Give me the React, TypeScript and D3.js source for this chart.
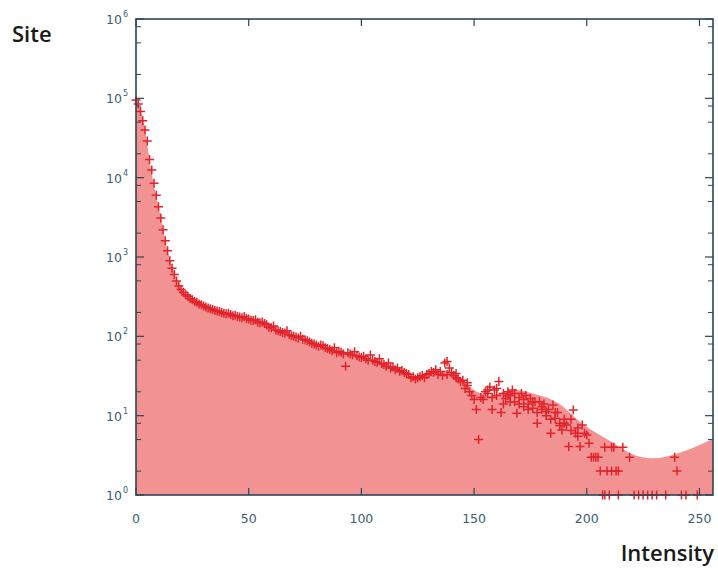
import React from "react";
import * as d3 from "d3";

// Smooth fitted curve (intensity, site count) – filled area
const curveIntensity = [0, 2, 4, 6, 8, 11, 13.5, 16.5, 19.5, 23, 27, 36, 46, 56, 65, 77, 95, 110, 124, 130, 137, 143, 150, 157, 163, 168, 176, 187, 198, 212, 221, 230, 238, 247, 256];
const curveCount = [100000, 70800, 39800, 16600, 7940, 3160, 1380, 692, 427, 331, 275, 214, 178, 155, 110, 78, 59, 44, 31, 32, 37, 31, 21, 18, 20, 21, 19, 14.5, 7.9, 4.5, 3.2, 2.9, 3.2, 3.9, 5.1];

// Measured counts for intensities 0..134 (one per intensity)
const bandCounts = [
  95000, 85000, 68000, 52000, 40000, 29000, 17000, 12500, 8500, 6000,
  4300, 3100, 2200, 1600, 1200, 900, 720, 600, 500, 430,
  390, 360, 335, 320, 300, 290, 275, 268, 255, 250,
  242, 235, 228, 222, 218, 212, 208, 205, 200, 196,
  192, 195, 188, 182, 185, 178, 175, 172, 178, 168,
  165, 160, 158, 162, 150, 148, 152, 145, 140, 130,
  128, 135, 120, 118, 115, 112, 110, 118, 105, 102,
  100, 98, 95, 100, 92, 90, 88, 85, 82, 80,
  78, 75, 78, 76, 72, 70, 68, 66, 72, 62,
  65, 63, 60, 42, 62, 60, 58, 64, 57, 55,
  54, 56, 52, 50, 58, 50, 48, 47, 52, 45,
  44, 42, 46, 40, 41, 38, 40, 36, 37, 35,
  34, 33, 30, 31, 29, 30, 31, 32, 30, 33,
  34, 36, 35, 38, 33
];

// Scattered measurements for intensities above 134
const scatterIntensity = [135, 136, 137, 138, 139, 140, 141, 142, 143, 144, 145, 146, 147, 148, 149, 150, 151, 152, 153, 154, 155, 156, 157, 158, 159, 160, 161, 162, 163, 164, 165, 166, 167, 168, 169, 170, 171, 172, 173, 174, 175, 176, 177, 178, 179, 180, 181, 182, 183, 184, 185, 186, 187, 188, 189, 190, 191, 192, 193, 194, 195, 196, 197, 198, 199, 200, 202, 203, 204, 206, 208, 212, 211, 213, 214, 216, 219, 239, 240,
  138, 142, 147, 156, 158, 160, 163, 165, 166, 168, 170, 172, 174, 176, 178, 180, 182, 184, 186, 188, 190, 193, 196, 201, 205, 209, 211,
  207, 208, 210, 214, 221, 223, 225, 227, 229, 231, 235, 242, 244, 249];
const scatterCount = [36, 32, 46, 48, 40, 35, 32, 30, 29, 27, 28, 22, 24, 20, 18, 16, 12, 5, 17, 16, 20, 19, 23, 12, 21, 18, 27, 11, 19, 16.5, 20, 18, 21, 15, 10.7, 17, 19, 13, 18, 14, 16.5, 12.4, 15, 8, 15, 13, 14, 11.2, 12, 6, 13.6, 9.3, 11, 8, 6.6, 9, 7.6, 4.1, 9, 11.8, 6, 7, 4.1, 7.6, 6, 5.7, 3, 3, 3, 2, 4, 4, 2, 2, 2, 4, 3, 3, 2,
  33, 34, 26, 21, 17, 22, 14, 18, 15, 19, 14, 16, 12, 15, 11, 12, 10, 9, 11, 7.5, 8, 6.5, 5.5, 4.5, 3, 2, 4,
  1, 1, 1, 1, 1, 1, 1, 1, 1, 1, 1, 1, 1, 1];

const xTicks = [0, 50, 100, 150, 200, 250];
const yExponents = [0, 1, 2, 3, 4, 5, 6];
const minorMultipliers = [2, 5, 8];

export default function App() {
  const left = 136, right = 713, top = 19, bottom = 495;
  const x = d3.scaleLinear().domain([0, 256]).range([left, right]);
  const y = d3.scaleLog().domain([1, 1e6]).range([bottom, top]);

  const curvePts = curveIntensity.map((v, i) => [v, curveCount[i]] as [number, number]);
  const area = d3.area<[number, number]>()
    .x(d => x(d[0]))
    .y0(y(1))
    .y1(d => y(d[1]))
    .curve(d3.curveMonotoneX)(curvePts) as string;

  const points: [number, number][] = [
    ...bandCounts.map((c, i) => [i, c] as [number, number]),
    ...scatterIntensity.map((v, i) => [v, scatterCount[i]] as [number, number]),
  ];

  const axisColor = "#2c4753";
  const labelColor = "#3b5d70";
  const markerColor = "#e2232a";
  const arm = 4.5;

  const minorTicks: number[] = [];
  for (let e = 0; e < 6; e++) minorMultipliers.forEach(m => minorTicks.push(m * Math.pow(10, e)));

  return (
    <svg width={718} height={570} style={{ position: "absolute", left: 0, top: 0, background: "#fff" }}
      fontFamily="DejaVu Sans, sans-serif">
      <defs>
        <clipPath id="plot"><rect x={left} y={top} width={right - left} height={bottom - top} /></clipPath>
      </defs>
      <path d={area} fill="#f29293" clipPath="url(#plot)" />
      <g stroke={markerColor} strokeWidth={1.5}>
        {points.map((p, i) => {
          const cx = x(p[0]), cy = y(p[1]);
          return (
            <path key={i} d={`M${cx - arm},${cy}H${cx + arm}M${cx},${cy - arm}V${cy + arm}`} />
          );
        })}
      </g>
      {/* frame */}
      <rect x={left} y={top} width={right - left} height={bottom - top} fill="none" stroke={axisColor} strokeWidth={1.6} />
      {/* x ticks */}
      {xTicks.map(t => (
        <g key={"xt" + t} stroke={axisColor} strokeWidth={1.2}>
          <line x1={x(t)} x2={x(t)} y1={bottom} y2={bottom - 7} />
          <line x1={x(t)} x2={x(t)} y1={top} y2={top + 7} />
        </g>
      ))}
      {xTicks.map(t => (
        <text key={"xl" + t} x={x(t)} y={523} fontSize={12.5} fill={labelColor} textAnchor="middle">{t}</text>
      ))}
      {/* y ticks */}
      {yExponents.map(e => (
        <g key={"yt" + e} stroke={axisColor} strokeWidth={1.2}>
          <line x1={left} x2={left + 8} y1={y(Math.pow(10, e))} y2={y(Math.pow(10, e))} />
          <line x1={right} x2={right - 8} y1={y(Math.pow(10, e))} y2={y(Math.pow(10, e))} />
        </g>
      ))}
      {minorTicks.map((v, i) => (
        <g key={"ym" + i} stroke={axisColor} strokeWidth={1}>
          <line x1={left} x2={left + 5} y1={y(v)} y2={y(v)} />
          <line x1={right} x2={right - 5} y1={y(v)} y2={y(v)} />
        </g>
      ))}
      {yExponents.map(e => (
        <text key={"yl" + e} x={122} y={y(Math.pow(10, e)) + 5} fontSize={12.5} fill={labelColor} textAnchor="end">
          10
        </text>
      ))}
      {yExponents.map(e => (
        <text key={"ye" + e} x={123} y={y(Math.pow(10, e)) - 2} fontSize={8} fill={labelColor}>
          {e}
        </text>
      ))}
      <text x={12} y={42} fontSize={22} fill="#1a1a1a" fontWeight={600} fontFamily="Open Sans, sans-serif">Site</text>
      <text x={714} y={561} fontSize={22} fill="#1a1a1a" fontWeight={600} fontFamily="Open Sans, sans-serif" textAnchor="end">Intensity</text>
    </svg>
  );
}
